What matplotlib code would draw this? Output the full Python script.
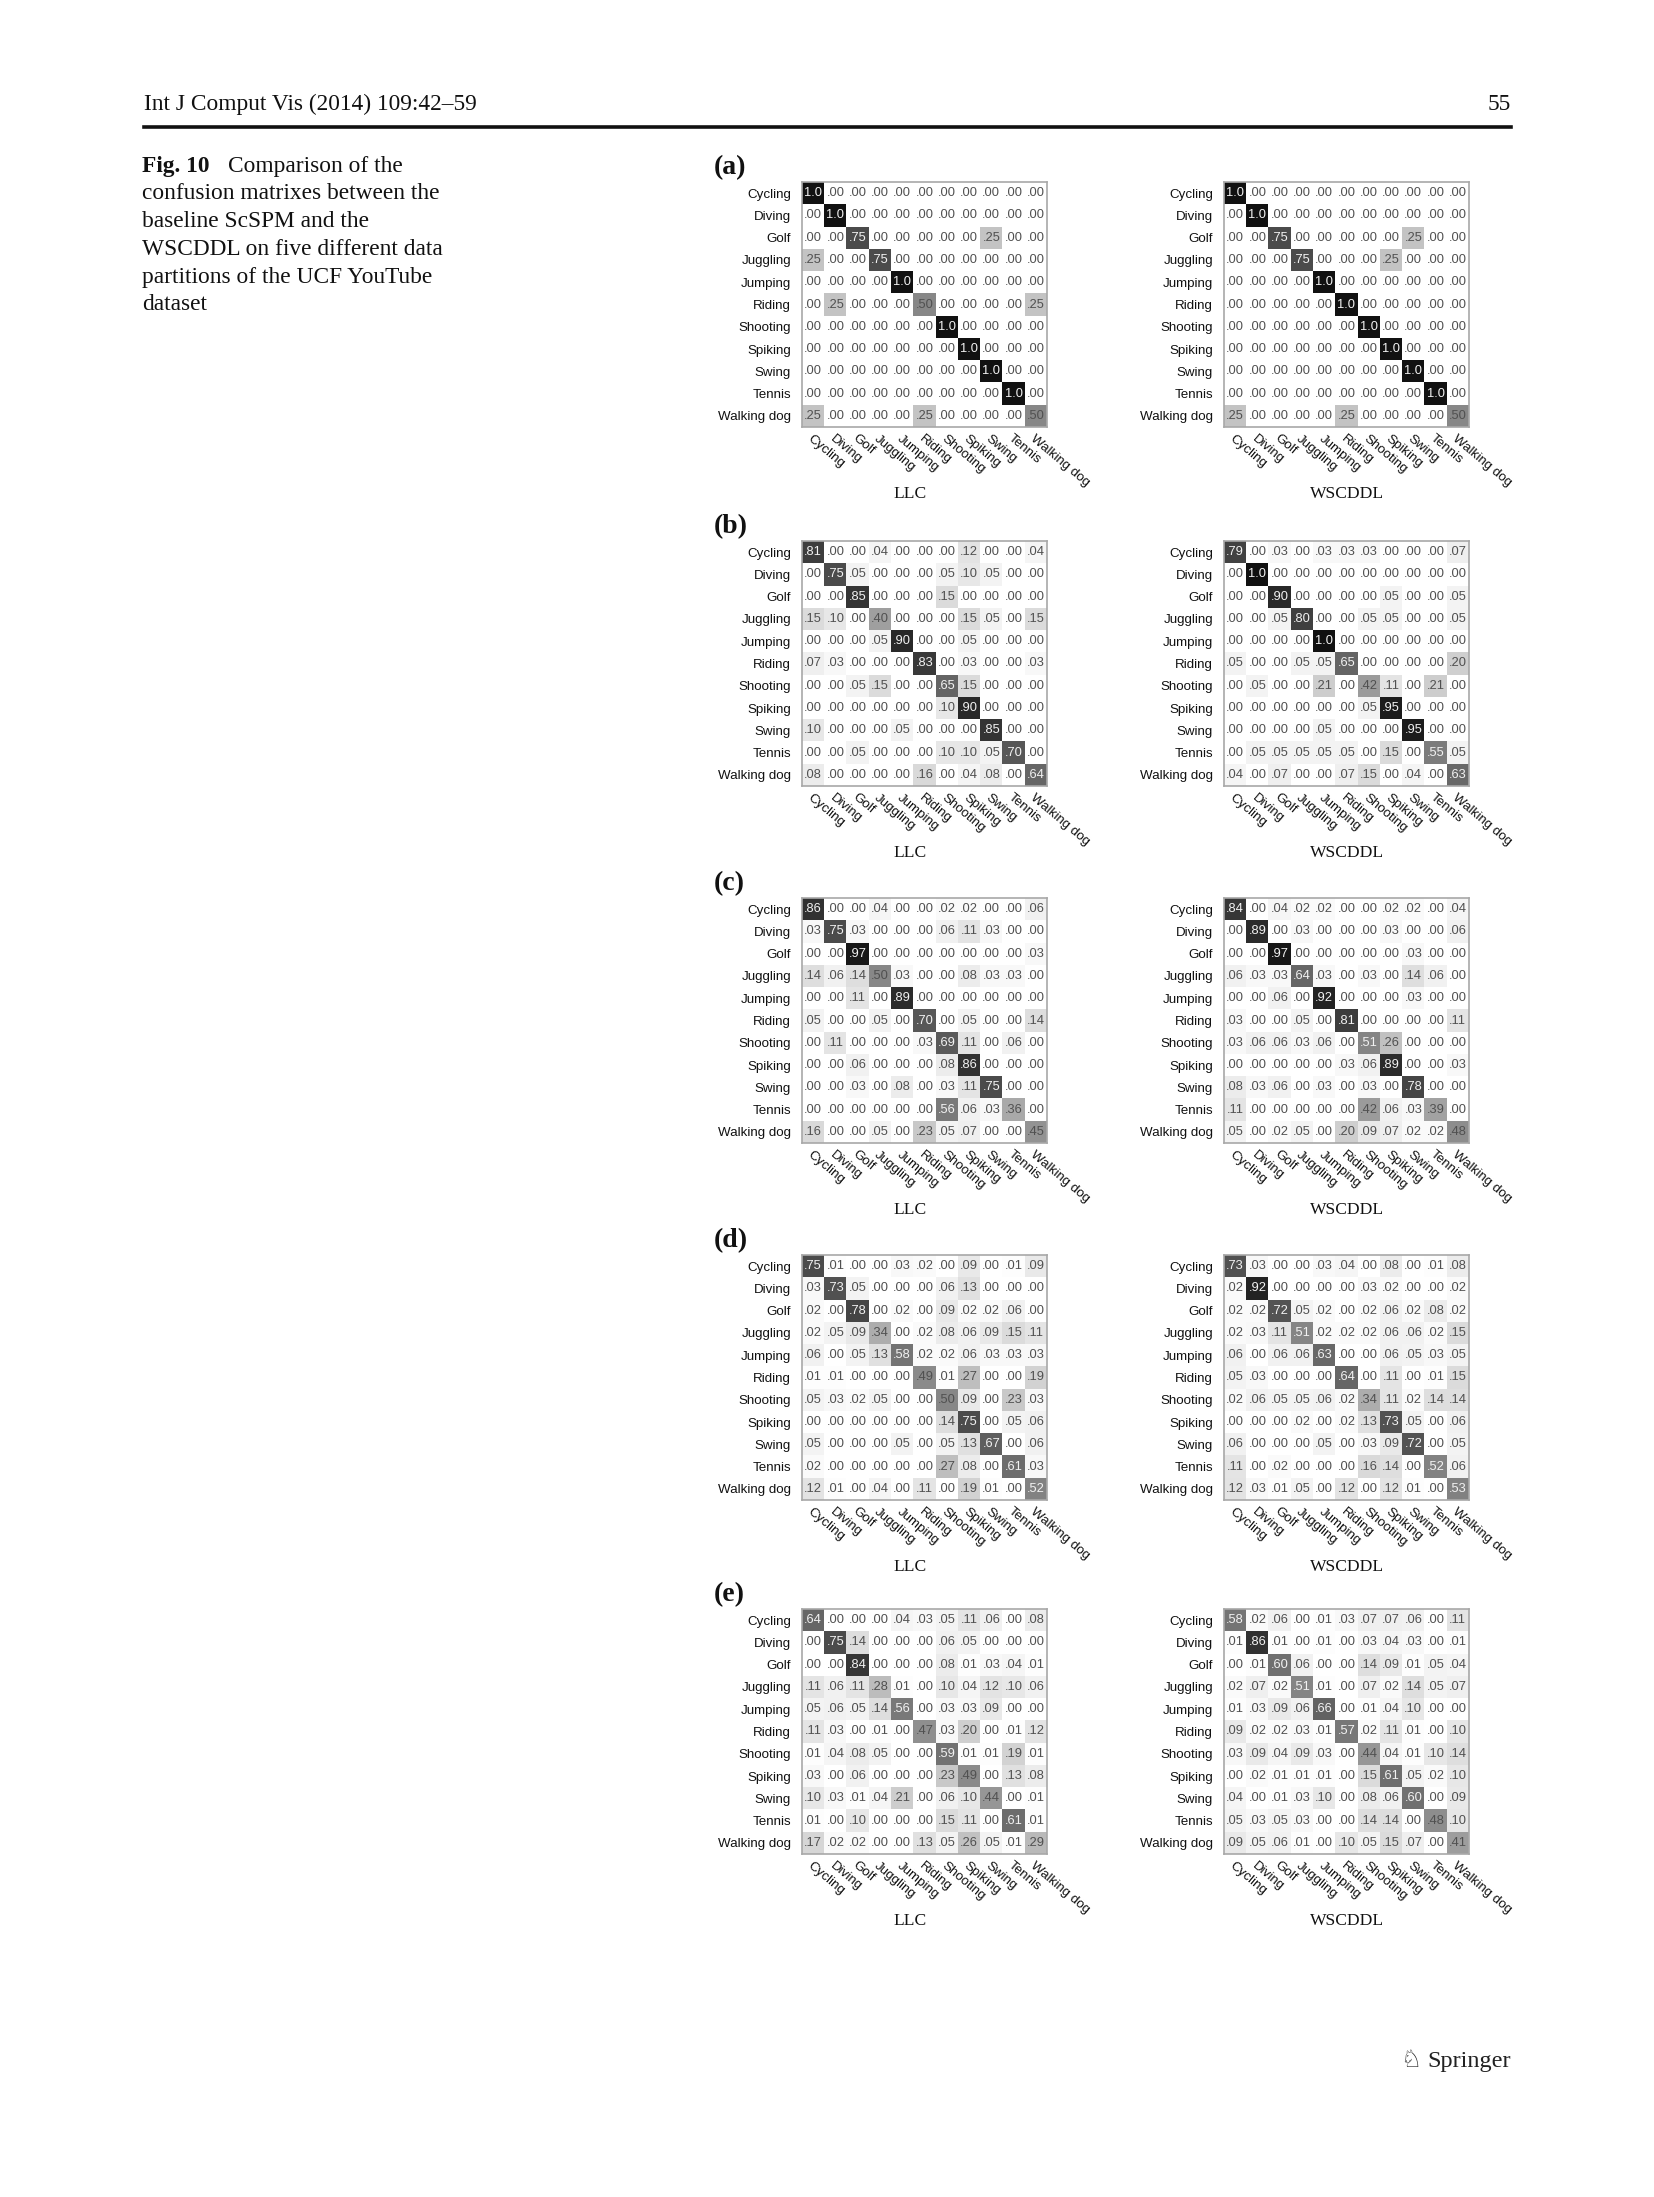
import matplotlib
matplotlib.use("Agg")
import matplotlib.pyplot as plt
import matplotlib.transforms as mtransforms
from matplotlib.colors import LinearSegmentedColormap
import numpy as np

W, H = 1654, 2197

classes = ["Cycling", "Diving", "Golf", "Juggling", "Jumping", "Riding",
           "Shooting", "Spiking", "Swing", "Tennis", "Walking dog"]
panel_letters = ["(a)", "(b)", "(c)", "(d)", "(e)"]
method_names = ["LLC", "WSCDDL"]

llc_a = [
    [1.0, .00, .00, .00, .00, .00, .00, .00, .00, .00, .00],
    [.00, 1.0, .00, .00, .00, .00, .00, .00, .00, .00, .00],
    [.00, .00, .75, .00, .00, .00, .00, .00, .25, .00, .00],
    [.25, .00, .00, .75, .00, .00, .00, .00, .00, .00, .00],
    [.00, .00, .00, .00, 1.0, .00, .00, .00, .00, .00, .00],
    [.00, .25, .00, .00, .00, .50, .00, .00, .00, .00, .25],
    [.00, .00, .00, .00, .00, .00, 1.0, .00, .00, .00, .00],
    [.00, .00, .00, .00, .00, .00, .00, 1.0, .00, .00, .00],
    [.00, .00, .00, .00, .00, .00, .00, .00, 1.0, .00, .00],
    [.00, .00, .00, .00, .00, .00, .00, .00, .00, 1.0, .00],
    [.25, .00, .00, .00, .00, .25, .00, .00, .00, .00, .50],
]
wscddl_a = [
    [1.0, .00, .00, .00, .00, .00, .00, .00, .00, .00, .00],
    [.00, 1.0, .00, .00, .00, .00, .00, .00, .00, .00, .00],
    [.00, .00, .75, .00, .00, .00, .00, .00, .25, .00, .00],
    [.00, .00, .00, .75, .00, .00, .00, .25, .00, .00, .00],
    [.00, .00, .00, .00, 1.0, .00, .00, .00, .00, .00, .00],
    [.00, .00, .00, .00, .00, 1.0, .00, .00, .00, .00, .00],
    [.00, .00, .00, .00, .00, .00, 1.0, .00, .00, .00, .00],
    [.00, .00, .00, .00, .00, .00, .00, 1.0, .00, .00, .00],
    [.00, .00, .00, .00, .00, .00, .00, .00, 1.0, .00, .00],
    [.00, .00, .00, .00, .00, .00, .00, .00, .00, 1.0, .00],
    [.25, .00, .00, .00, .00, .25, .00, .00, .00, .00, .50],
]
llc_b = [
    [.81, .00, .00, .04, .00, .00, .00, .12, .00, .00, .04],
    [.00, .75, .05, .00, .00, .00, .05, .10, .05, .00, .00],
    [.00, .00, .85, .00, .00, .00, .15, .00, .00, .00, .00],
    [.15, .10, .00, .40, .00, .00, .00, .15, .05, .00, .15],
    [.00, .00, .00, .05, .90, .00, .00, .05, .00, .00, .00],
    [.07, .03, .00, .00, .00, .83, .00, .03, .00, .00, .03],
    [.00, .00, .05, .15, .00, .00, .65, .15, .00, .00, .00],
    [.00, .00, .00, .00, .00, .00, .10, .90, .00, .00, .00],
    [.10, .00, .00, .00, .05, .00, .00, .00, .85, .00, .00],
    [.00, .00, .05, .00, .00, .00, .10, .10, .05, .70, .00],
    [.08, .00, .00, .00, .00, .16, .00, .04, .08, .00, .64],
]
wscddl_b = [
    [.79, .00, .03, .00, .03, .03, .03, .00, .00, .00, .07],
    [.00, 1.0, .00, .00, .00, .00, .00, .00, .00, .00, .00],
    [.00, .00, .90, .00, .00, .00, .00, .05, .00, .00, .05],
    [.00, .00, .05, .80, .00, .00, .05, .05, .00, .00, .05],
    [.00, .00, .00, .00, 1.0, .00, .00, .00, .00, .00, .00],
    [.05, .00, .00, .05, .05, .65, .00, .00, .00, .00, .20],
    [.00, .05, .00, .00, .21, .00, .42, .11, .00, .21, .00],
    [.00, .00, .00, .00, .00, .00, .05, .95, .00, .00, .00],
    [.00, .00, .00, .00, .05, .00, .00, .00, .95, .00, .00],
    [.00, .05, .05, .05, .05, .05, .00, .15, .00, .55, .05],
    [.04, .00, .07, .00, .00, .07, .15, .00, .04, .00, .63],
]
llc_c = [
    [.86, .00, .00, .04, .00, .00, .02, .02, .00, .00, .06],
    [.03, .75, .03, .00, .00, .00, .06, .11, .03, .00, .00],
    [.00, .00, .97, .00, .00, .00, .00, .00, .00, .00, .03],
    [.14, .06, .14, .50, .03, .00, .00, .08, .03, .03, .00],
    [.00, .00, .11, .00, .89, .00, .00, .00, .00, .00, .00],
    [.05, .00, .00, .05, .00, .70, .00, .05, .00, .00, .14],
    [.00, .11, .00, .00, .00, .03, .69, .11, .00, .06, .00],
    [.00, .00, .06, .00, .00, .00, .08, .86, .00, .00, .00],
    [.00, .00, .03, .00, .08, .00, .03, .11, .75, .00, .00],
    [.00, .00, .00, .00, .00, .00, .56, .06, .03, .36, .00],
    [.16, .00, .00, .05, .00, .23, .05, .07, .00, .00, .45],
]
wscddl_c = [
    [.84, .00, .04, .02, .02, .00, .00, .02, .02, .00, .04],
    [.00, .89, .00, .03, .00, .00, .00, .03, .00, .00, .06],
    [.00, .00, .97, .00, .00, .00, .00, .00, .03, .00, .00],
    [.06, .03, .03, .64, .03, .00, .03, .00, .14, .06, .00],
    [.00, .00, .06, .00, .92, .00, .00, .00, .03, .00, .00],
    [.03, .00, .00, .05, .00, .81, .00, .00, .00, .00, .11],
    [.03, .06, .06, .03, .06, .00, .51, .26, .00, .00, .00],
    [.00, .00, .00, .00, .00, .03, .06, .89, .00, .00, .03],
    [.08, .03, .06, .00, .03, .00, .03, .00, .78, .00, .00],
    [.11, .00, .00, .00, .00, .00, .42, .06, .03, .39, .00],
    [.05, .00, .02, .05, .00, .20, .09, .07, .02, .02, .48],
]
llc_d = [
    [.75, .01, .00, .00, .03, .02, .00, .09, .00, .01, .09],
    [.03, .73, .05, .00, .00, .00, .06, .13, .00, .00, .00],
    [.02, .00, .78, .00, .02, .00, .09, .02, .02, .06, .00],
    [.02, .05, .09, .34, .00, .02, .08, .06, .09, .15, .11],
    [.06, .00, .05, .13, .58, .02, .02, .06, .03, .03, .03],
    [.01, .01, .00, .00, .00, .49, .01, .27, .00, .00, .19],
    [.05, .03, .02, .05, .00, .00, .50, .09, .00, .23, .03],
    [.00, .00, .00, .00, .00, .00, .14, .75, .00, .05, .06],
    [.05, .00, .00, .00, .05, .00, .05, .13, .67, .00, .06],
    [.02, .00, .00, .00, .00, .00, .27, .08, .00, .61, .03],
    [.12, .01, .00, .04, .00, .11, .00, .19, .01, .00, .52],
]
wscddl_d = [
    [.73, .03, .00, .00, .03, .04, .00, .08, .00, .01, .08],
    [.02, .92, .00, .00, .00, .00, .03, .02, .00, .00, .02],
    [.02, .02, .72, .05, .02, .00, .02, .06, .02, .08, .02],
    [.02, .03, .11, .51, .02, .02, .02, .06, .06, .02, .15],
    [.06, .00, .06, .06, .63, .00, .00, .06, .05, .03, .05],
    [.05, .03, .00, .00, .00, .64, .00, .11, .00, .01, .15],
    [.02, .06, .05, .05, .06, .02, .34, .11, .02, .14, .14],
    [.00, .00, .00, .02, .00, .02, .13, .73, .05, .00, .06],
    [.06, .00, .00, .00, .05, .00, .03, .09, .72, .00, .05],
    [.11, .00, .02, .00, .00, .00, .16, .14, .00, .52, .06],
    [.12, .03, .01, .05, .00, .12, .00, .12, .01, .00, .53],
]
llc_e = [
    [.64, .00, .00, .00, .04, .03, .05, .11, .06, .00, .08],
    [.00, .75, .14, .00, .00, .00, .06, .05, .00, .00, .00],
    [.00, .00, .84, .00, .00, .00, .08, .01, .03, .04, .01],
    [.11, .06, .11, .28, .01, .00, .10, .04, .12, .10, .06],
    [.05, .06, .05, .14, .56, .00, .03, .03, .09, .00, .00],
    [.11, .03, .00, .01, .00, .47, .03, .20, .00, .01, .12],
    [.01, .04, .08, .05, .00, .00, .59, .01, .01, .19, .01],
    [.03, .00, .06, .00, .00, .00, .23, .49, .00, .13, .08],
    [.10, .03, .01, .04, .21, .00, .06, .10, .44, .00, .01],
    [.01, .00, .10, .00, .00, .00, .15, .11, .00, .61, .01],
    [.17, .02, .02, .00, .00, .13, .05, .26, .05, .01, .29],
]
wscddl_e = [
    [.58, .02, .06, .00, .01, .03, .07, .07, .06, .00, .11],
    [.01, .86, .01, .00, .01, .00, .03, .04, .03, .00, .01],
    [.00, .01, .60, .06, .00, .00, .14, .09, .01, .05, .04],
    [.02, .07, .02, .51, .01, .00, .07, .02, .14, .05, .07],
    [.01, .03, .09, .06, .66, .00, .01, .04, .10, .00, .00],
    [.09, .02, .02, .03, .01, .57, .02, .11, .01, .00, .10],
    [.03, .09, .04, .09, .03, .00, .44, .04, .01, .10, .14],
    [.00, .02, .01, .01, .01, .00, .15, .61, .05, .02, .10],
    [.04, .00, .01, .03, .10, .00, .08, .06, .60, .00, .09],
    [.05, .03, .05, .03, .00, .00, .14, .14, .00, .48, .10],
    [.09, .05, .06, .01, .00, .10, .05, .15, .07, .00, .41],
]

panels = [(llc_a, wscddl_a), (llc_b, wscddl_b), (llc_c, wscddl_c),
          (llc_d, wscddl_d), (llc_e, wscddl_e)]

header_text = "Int J Comput Vis (2014) 109:42\u201359"
page_number = "55"
caption_bold = "Fig. 10"
caption_lines = ["Comparison of the", "confusion matrixes between the",
                 "baseline ScSPM and the", "WSCDDL on five different data",
                 "partitions of the UCF YouTube", "dataset"]

SERIF = ["Liberation Serif", "DejaVu Serif"]
SANS = ["Liberation Sans", "DejaVu Sans"]

fig = plt.figure(figsize=(W / 100, H / 100), dpi=100)
fig.patch.set_facecolor("white")


def fx(x):
    return x / W


def fy(y):
    return 1 - y / H


# header
fig.text(fx(144), fy(110), header_text, family=SERIF, fontsize=16.8,
         va="baseline", ha="left", color="#111111")
fig.text(fx(1511), fy(110), page_number, family=SERIF, fontsize=16.8,
         va="baseline", ha="right", color="#111111")
fig.add_artist(plt.Line2D([fx(144), fx(1511)], [fy(127), fy(127)],
                          color="#111111", lw=2.6, transform=fig.transFigure))

# caption
cap_base = [172, 199, 227, 255, 283, 310]
fig.text(fx(142), fy(cap_base[0]), caption_bold, family=SERIF, fontsize=16.8,
         fontweight="bold", va="baseline", ha="left", color="#111111")
fig.text(fx(228), fy(cap_base[0]), caption_lines[0], family=SERIF, fontsize=16.8,
         va="baseline", ha="left", color="#111111")
for yb, line in zip(cap_base[1:], caption_lines[1:]):
    fig.text(fx(142), fy(yb), line, family=SERIF, fontsize=16.8,
             va="baseline", ha="left", color="#111111")

# footer
fig.text(fx(1511), fy(2067), "Springer", family=SERIF, fontsize=17.5,
         va="baseline", ha="right", color="#222222")
fig.text(fx(1421), fy(2067), "\u2658", family=["DejaVu Sans"], fontsize=17,
         va="baseline", ha="right", color="#222222")

cmap = LinearSegmentedColormap.from_list("pg", ["#ffffff", "#111111"])

tops = [182, 541, 898, 1255, 1609]
lefts = [802, 1224]
title_x = [910, 1347]
size = 245


def fmt(v):
    return "1.0" if v >= 0.995 else ("%.2f" % v)[1:]


offset = mtransforms.ScaledTranslation(-7 / 100, 0, fig.dpi_scale_trans)

for pi, (top, pair) in enumerate(zip(tops, panels)):
    fig.text(fx(714), fy(top - 8), panel_letters[pi], family=SERIF,
             fontsize=20, fontweight="bold", va="baseline", ha="left",
             color="#111111")
    for mi, (left, M) in enumerate(zip(lefts, pair)):
        M = np.array(M)
        ax = fig.add_axes([fx(left), fy(top + size), size / W, size / H])
        ax.imshow(M, cmap=cmap, vmin=0, vmax=1, interpolation="nearest",
                  aspect="auto")
        n = len(classes)
        for i in range(n):
            for j in range(n):
                v = M[i, j]
                ax.text(j, i, fmt(v), ha="center", va="center",
                        family=SANS, fontsize=9.3,
                        color="#f2f2f2" if v > 0.505 else "#505050")
        ax.set_xticks(range(n))
        ax.set_yticks(range(n))
        ax.set_yticklabels(classes, family=SANS, fontsize=9.6, color="#111111")
        ax.set_xticklabels(classes, family=SANS, fontsize=9.6, color="#111111",
                           rotation=-40, ha="left", va="top",
                           rotation_mode="anchor")
        for lab in ax.get_xticklabels():
            lab.set_transform(lab.get_transform() + offset)
        ax.tick_params(axis="both", length=0)
        ax.tick_params(axis="y", pad=8)
        ax.tick_params(axis="x", pad=4)
        for s in ax.spines.values():
            s.set_color("#a8a8a8")
            s.set_linewidth(1.2)
        fig.text(fx(title_x[mi]), fy(top + 316), method_names[mi],
                 family=SERIF, fontsize=12.6, ha="center", va="baseline",
                 color="#111111")

fig.savefig("out.png", dpi=100, facecolor="white")
